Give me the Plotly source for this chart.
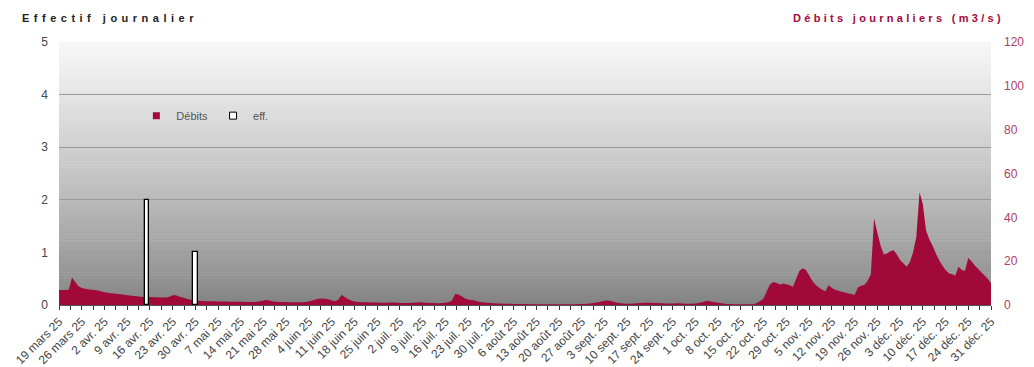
import pandas as pd
import plotly.graph_objects as go

# ---------------- data ----------------
start_date = "2025-03-19"
end_date = "2025-12-31"

debits_mars = [6.8, 6.8, 6.8, 7.0, 12.6, 10.5, 8.5, 7.7, 7.4, 7.2, 7.0, 6.8, 6.6]
debits_avril = [6.2, 5.8, 5.6, 5.4, 5.2, 5.05, 4.9, 4.7, 4.5, 4.3, 4.1, 3.95, 3.8, 3.7, 3.65,
                3.6, 3.55, 3.5, 3.45, 3.4, 3.4, 3.8, 4.5, 4.4, 3.9, 3.4, 3.0, 2.6, 2.3, 2.1]
debits_mai = [1.9, 1.8, 1.7, 1.7, 1.7, 1.7, 1.6, 1.6, 1.6, 1.6, 1.5, 1.5, 1.5, 1.5, 1.5, 1.4,
              1.4, 1.4, 1.5, 1.7, 2.0, 2.3, 1.9, 1.6, 1.5, 1.4, 1.4, 1.4, 1.3, 1.3, 1.3]
debits_juin = [1.3, 1.3, 1.4, 1.6, 2.0, 2.5, 2.9, 3.0, 2.9, 2.6, 2.1, 1.7, 2.4, 4.6, 3.6,
               2.6, 2.0, 1.6, 1.4, 1.3, 1.2, 1.2, 1.1, 1.1, 1.1, 1.0, 1.0, 1.0, 1.1, 1.1]
debits_juillet = [1.0, 0.9, 0.9, 0.9, 0.9, 1.0, 1.1, 1.2, 1.1, 1.0, 0.9, 0.9, 0.8, 0.8, 0.9, 1.0,
                  1.2, 2.0, 5.0, 4.8, 4.0, 3.0, 2.5, 2.3, 2.0, 1.6, 1.3, 1.1, 1.0, 0.9, 0.8]
debits_aout = [0.7, 0.7, 0.6, 0.6, 0.6, 0.5, 0.5, 0.4, 0.4, 0.4, 0.3, 0.3, 0.3, 0.3, 0.3, 0.3,
               0.3, 0.3, 0.3, 0.3, 0.3, 0.3, 0.3, 0.3, 0.3, 0.4, 0.4, 0.5, 0.6, 0.8, 1.0]
debits_septembre = [1.3, 1.6, 1.9, 2.1, 1.8, 1.4, 1.0, 0.8, 0.7, 0.6, 0.6, 0.7, 0.8, 0.9, 1.0,
                    1.0, 1.0, 0.9, 0.9, 0.8, 0.8, 0.7, 0.7, 0.7, 0.8, 0.8, 0.7, 0.6, 0.6, 0.6]
debits_octobre = [0.7, 0.9, 1.3, 1.7, 1.8, 1.5, 1.2, 1.0, 0.8, 0.6, 0.5, 0.4, 0.3, 0.3, 0.3, 0.3,
                  0.3, 0.3, 0.3, 1.0, 1.8, 3.0, 6.5, 9.5, 10.5, 10.0, 9.3, 9.8, 9.5, 9.0, 8.2]
debits_novembre = [12.0, 15.5, 16.8, 16.0, 13.5, 11.0, 9.1, 8.0, 7.0, 6.3, 9.0, 7.8, 7.0, 6.5, 6.1,
                   5.7, 5.3, 5.0, 4.6, 8.0, 8.8, 9.1, 11.0, 14.0, 39.5, 33.0, 27.0, 23.0, 23.5, 24.5]
debits_decembre = [25.0, 23.0, 20.5, 19.0, 17.5, 19.5, 24.0, 31.0, 51.5, 46.0, 34.0, 30.0, 27.0,
                   23.6, 20.5, 18.0, 16.0, 14.5, 14.0, 13.5, 17.5, 16.0, 15.5, 21.5, 20.0, 18.0,
                   16.5, 15.0, 13.5, 12.0, 9.8]

eff_dates = ["2025-04-15", "2025-04-30"]
eff_values = [2, 1]

tick_dates = ["2025-03-19", "2025-03-26", "2025-04-02", "2025-04-09", "2025-04-16", "2025-04-23",
              "2025-04-30", "2025-05-07", "2025-05-14", "2025-05-21", "2025-05-28", "2025-06-04",
              "2025-06-11", "2025-06-18", "2025-06-25", "2025-07-02", "2025-07-09", "2025-07-16",
              "2025-07-23", "2025-07-30", "2025-08-06", "2025-08-13", "2025-08-20", "2025-08-27",
              "2025-09-03", "2025-09-10", "2025-09-17", "2025-09-24", "2025-10-01", "2025-10-08",
              "2025-10-15", "2025-10-22", "2025-10-29", "2025-11-05", "2025-11-12", "2025-11-19",
              "2025-11-26", "2025-12-03", "2025-12-10", "2025-12-17", "2025-12-24", "2025-12-31"]
tick_labels = ["19 mars 25", "26 mars 25", "2 avr. 25", "9 avr. 25", "16 avr. 25", "23 avr. 25",
               "30 avr. 25", "7 mai 25", "14 mai 25", "21 mai 25", "28 mai 25", "4 juin 25",
               "11 juin 25", "18 juin 25", "25 juin 25", "2 juil. 25", "9 juil. 25", "16 juil. 25",
               "23 juil. 25", "30 juil. 25", "6 août 25", "13 août 25", "20 août 25", "27 août 25",
               "3 sept. 25", "10 sept. 25", "17 sept. 25", "24 sept. 25", "1 oct. 25", "8 oct. 25",
               "15 oct. 25", "22 oct. 25", "29 oct. 25", "5 nov. 25", "12 nov. 25", "19 nov. 25",
               "26 nov. 25", "3 déc. 25", "10 déc. 25", "17 déc. 25", "24 déc. 25", "31 déc. 25"]

debits = (debits_mars + debits_avril + debits_mai + debits_juin + debits_juillet + debits_aout
          + debits_septembre + debits_octobre + debits_novembre + debits_decembre)
dates = pd.date_range(start_date, end_date, freq="D")

# ---------------- styles ----------------
CRIMSON = "#A0093A"
FONT = "Liberation Sans, Arial, sans-serif"
DAY_MS = 86400000

fig = go.Figure()

fig.add_trace(go.Scatter(
    x=dates, y=debits, name="Débits", mode="none", fill="tozeroy",
    fillcolor=CRIMSON, yaxis="y", hoverinfo="x+y", showlegend=False,
))
fig.add_trace(go.Bar(
    x=eff_dates, y=eff_values, name="eff.", yaxis="y2",
    width=DAY_MS * 1.3, showlegend=False,
    marker=dict(color="white", line=dict(color="black", width=1.3)),
))
# legend entries (square symbols, as in the reference)
fig.add_trace(go.Scatter(
    x=[None], y=[None], name="Débits", mode="markers", yaxis="y",
    marker=dict(symbol="square", size=7, color=CRIMSON),
))
fig.add_trace(go.Scatter(
    x=[None], y=[None], name="eff.", mode="markers", yaxis="y2",
    marker=dict(symbol="square", size=7, color="white", line=dict(color="black", width=1)),
))

# gradient background of the plot area
shapes = []
n = 90
for i in range(n):
    t0 = i / n
    t1 = (i + 1) / n
    tm = (t0 + t1) / 2
    g = int(round(128 + 120 * (tm ** 0.8)))
    shapes.append(dict(
        type="rect", xref="paper", yref="paper", x0=0, x1=1, y0=t0, y1=t1 + 0.002,
        fillcolor=f"rgb({g},{g},{g})", line=dict(width=0), layer="below",
    ))

# the page body adds an 8px offset; the figure is sized to fit the window
fig.update_layout(
    width=1026, height=359,
    margin=dict(l=51, r=43, t=34, b=62, autoexpand=False),
    paper_bgcolor="white", plot_bgcolor="rgba(0,0,0,0)",
    font=dict(family=FONT, size=11, color="#444"),
    shapes=shapes,
    bargap=0,
    showlegend=True,
    legend=dict(
        orientation="h", x=0.083, y=0.72, xanchor="left", yanchor="middle",
        bgcolor="rgba(0,0,0,0)", font=dict(size=11, color="#555"),
        itemwidth=30, traceorder="normal", tracegroupgap=0,
    ),
    xaxis=dict(
        type="date", range=[start_date, end_date], automargin=False,
        tickvals=tick_dates, ticktext=tick_labels, tickangle=-45,
        tickfont=dict(size=12, color="#444"),
        ticks="outside", ticklen=4, tickcolor="#333",
        minor=dict(ticks="outside", ticklen=4, tickcolor="#333",
                   dtick=DAY_MS * 3.5, tick0=start_date),
        showgrid=False, showline=True, linecolor="#555", linewidth=1,
        zeroline=False,
    ),
    yaxis=dict(
        side="right", range=[0, 120], dtick=20, automargin=False,
        tickfont=dict(size=12, color="#B04060"), ticklabelstandoff=12,
        showgrid=False, zeroline=False, showline=False, ticks="",
    ),
    yaxis2=dict(
        side="left", overlaying="y", range=[0, 5], dtick=1, automargin=False,
        tickfont=dict(size=12, color="#444"), ticklabelstandoff=10,
        showgrid=True, gridcolor="#9a9a9a", gridwidth=1,
        zeroline=False, showline=False, ticks="",
    ),
    annotations=[
        dict(text="<b><span style='letter-spacing:4.5px'>Effectif journalier</span></b>",
             xref="paper", yref="paper", x=-0.042, y=1.092, xanchor="left", yanchor="middle",
             showarrow=False, font=dict(size=11, color="#222", family=FONT)),
        dict(text="<b><span style='letter-spacing:3.3px'>Débits journaliers (m3/s)</span></b>",
             xref="paper", yref="paper", x=1.016, y=1.092, xanchor="right", yanchor="middle",
             showarrow=False, font=dict(size=11, color="#A3093B", family=FONT)),
    ],
)

fig.write_html("out.html")
